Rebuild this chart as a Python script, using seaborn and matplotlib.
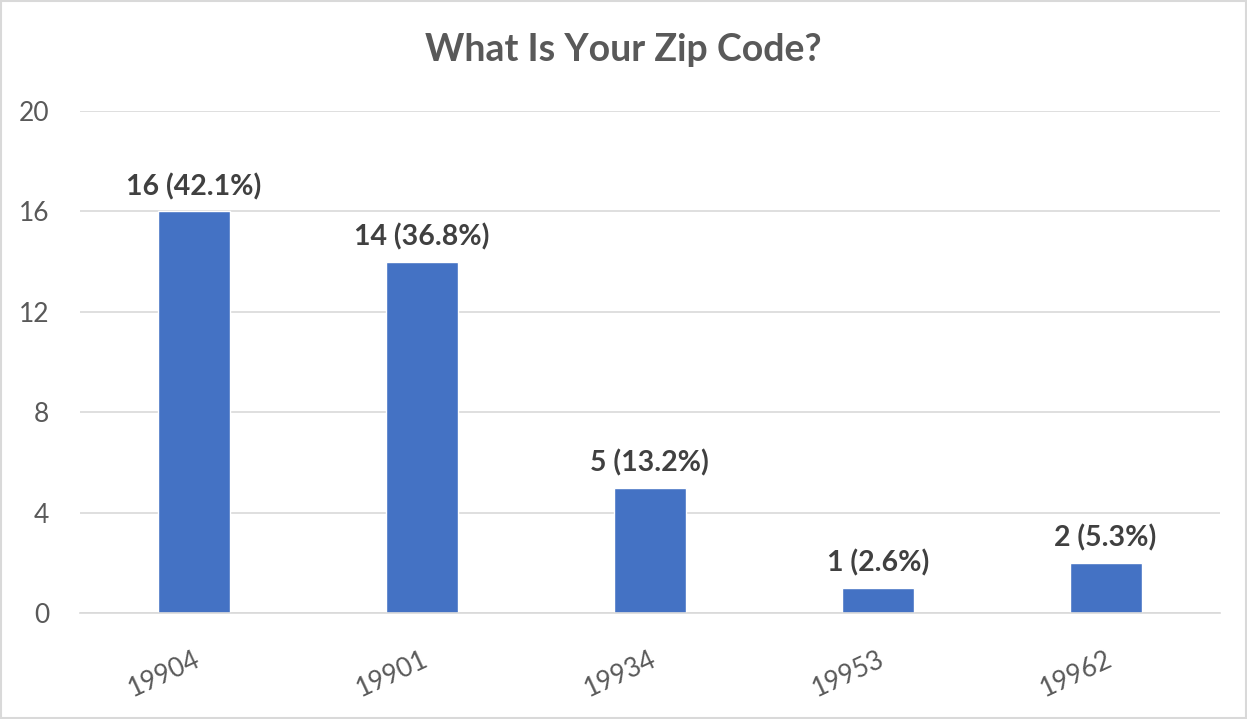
import matplotlib.pyplot as plt
import seaborn as sns
from matplotlib.patches import Rectangle

zip_codes = ["19904", "19901", "19934", "19953", "19962"]
counts = [16, 14, 5, 1, 2]
percents = [42.1, 36.8, 13.2, 2.6, 5.3]
y_ticks = [0, 4, 8, 12, 16, 20]

sns.set_theme(style="white")
plt.rcParams['font.family'] = ['Lato', 'DejaVu Sans']

text_color = "#595959"
label_color = "#404040"
bar_color = "#4472C4"
grid_color = "#D9D9D9"

fig = plt.figure(figsize=(12.47, 7.19), dpi=100)
ax = fig.add_axes([0.064, 0.1474, 0.914, 0.6982])

sns.barplot(x=zip_codes, y=counts, color=bar_color, width=0.316,
            saturation=1, ax=ax)

ax.set_ylim(0, 20)
ax.set_xlim(-0.5, 4.5)
ax.set_yticks(y_ticks)
ax.yaxis.grid(True, color=grid_color, linewidth=1.2)
ax.set_axisbelow(True)
for s in ["top", "right", "left"]:
    ax.spines[s].set_visible(False)
ax.spines["bottom"].set_color(grid_color)
ax.spines["bottom"].set_linewidth(1.2)

ax.tick_params(axis="y", length=0, pad=22, labelsize=19, labelcolor=text_color)
ax.tick_params(axis="x", length=0, pad=24, labelsize=19, labelcolor=text_color)
plt.setp(ax.get_xticklabels(), rotation=25, ha="right", rotation_mode="anchor")
ax.set_xlabel("")
ax.set_ylabel("")

# data labels: count (percent)
labels = [f"{c} ({p}%)" for c, p in zip(counts, percents)]
ax.bar_label(ax.containers[0], labels=labels, padding=8, fontsize=20.5,
             fontweight="bold", color=label_color)

fig.text(0.5, 0.93, "What Is Your Zip Code?", ha="center", va="center",
         fontsize=27, fontweight="bold", color=text_color)

fig.patches.append(Rectangle((0.001, 0.001), 0.998, 0.997, transform=fig.transFigure,
                             fill=False, edgecolor=grid_color, linewidth=1.5))

fig.savefig("out.png", dpi=100)
